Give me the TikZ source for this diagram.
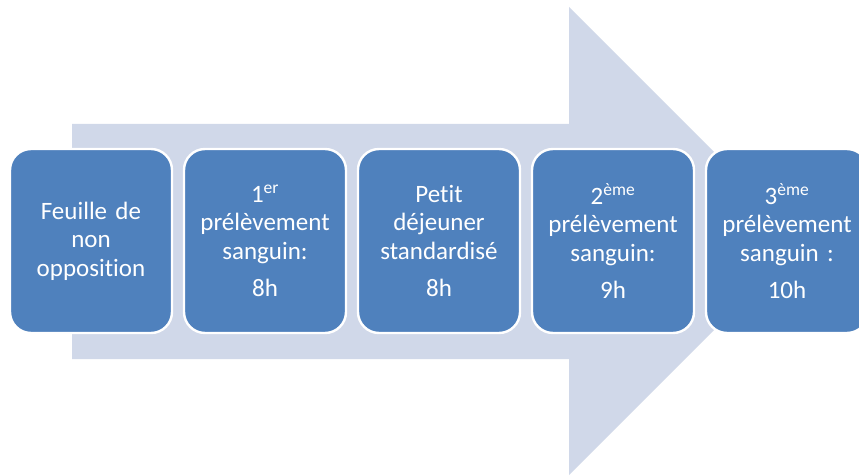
\documentclass[tikz,border=0pt]{standalone}
\usepackage{fontspec}
\setmainfont{Carlito}[RawFeature={-liga;-dlig}]
\definecolor{boxblue}{HTML}{4F81BD}
\definecolor{arrowfill}{HTML}{D0D8E9}
\begin{document}
\begin{tikzpicture}[x=1pt,y=-1pt,
  stepbox/.style={draw=white, line width=2.4pt, fill=boxblue, rounded corners=21pt,
    minimum width=162pt, minimum height=184pt, inner sep=0pt,
    text=white, align=center, text width=155pt,
    font=\fontsize{25}{28.5}\selectfont},
  bigarrow/.style={fill=arrowfill, draw=none}]
\useasboundingbox (0,0) rectangle (859,476);
\clip (0,0) rectangle (859,476);
\fill[white] (0,0) rectangle (859,476);
% arrow
\path[bigarrow] (72,124) -- (569,124) -- (569,7) -- (803,241) -- (569,475) -- (569,359) -- (72,359) -- cycle;
% boxes
\node[stepbox] (b1) at (91,241) {Feuille de\\non\\opposition};
\node[stepbox] (b2) at (265,241) {1\textsuperscript{er}\\prélèvement\\sanguin:\\[9pt]8h};
\node[stepbox] (b3) at (439,241) {Petit\\déjeuner\\standardisé\\[9pt]8h};
\node[stepbox] (b4) at (613,241) {2\textsuperscript{ème}\\prélèvement\\sanguin:\\[9pt]9h};
\node[stepbox] (b5) at (787,241) {3\textsuperscript{ème}\\prélèvement\\sanguin :\\[9pt]10h};
\end{tikzpicture}
\end{document}
